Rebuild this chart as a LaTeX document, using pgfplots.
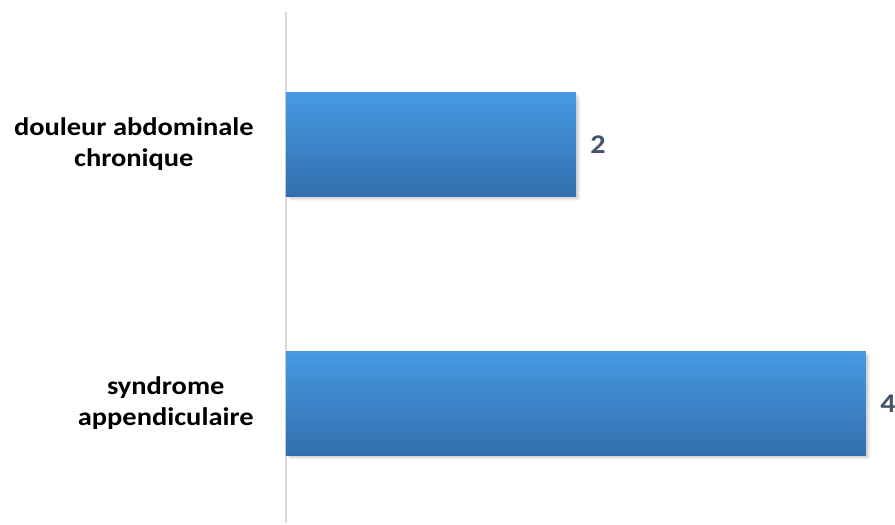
\documentclass[border=0pt]{standalone}
\usepackage{fontspec}
\setmainfont{Carlito}[FakeStretch=1.12]
\usepackage{pgfplots}
\pgfplotsset{compat=1.18}
\definecolor{bartop}{RGB}{70,153,228}
\definecolor{barbot}{RGB}{51,111,173}
\definecolor{vallab}{RGB}{68,84,106}
\definecolor{axgray}{RGB}{217,217,217}
\begin{document}
\begin{tikzpicture}
\begin{axis}[
  at={(0,0)}, anchor=south west,
  scale only axis, width=304.5pt, height=255.5pt,
  xbar, xmin=0, xmax=4.2, ymin=-0.4614, ymax=1.5116,
  bar width=0.4015, bar shift=0pt,
  axis x line=none, axis y line*=left,
  y axis line style={draw=axgray, line width=0.75pt, -},
  ytick={0,1},
  yticklabels={{syndrome\\appendiculaire},{douleur abdominale\\chronique}},
  major tick length=0pt,
  ytick style={draw=none},
  /pgf/number format/assume math mode=true,
  yticklabel style={align=center, font=\fontsize{12.7}{15.5}\selectfont\bfseries, inner sep=0pt, xshift=-16pt, text=black},
  every node near coord/.append style={font=\fontsize{13.5}{16}\selectfont\bfseries, text=vallab, anchor=west, inner sep=0pt, xshift=7pt},
  clip=false,
]
\addplot[draw=none, fill=black, opacity=0.08, xshift=2pt, yshift=-2pt, forget plot]
  coordinates {(4,0) (2,1)};
\addplot[draw=none, fill=black, opacity=0.10, xshift=1pt, yshift=-1pt, forget plot]
  coordinates {(4,0) (2,1)};
\addplot[draw=none, top color=bartop, bottom color=barbot, nodes near coords]
  coordinates {(4,0)};
\addplot[draw=none, top color=bartop, bottom color=barbot, nodes near coords]
  coordinates {(2,1)};
\end{axis}
\pgfresetboundingbox
\path[use as bounding box] (-143pt,-1pt) rectangle (304.5pt,261.5pt);
\end{tikzpicture}
\end{document}
